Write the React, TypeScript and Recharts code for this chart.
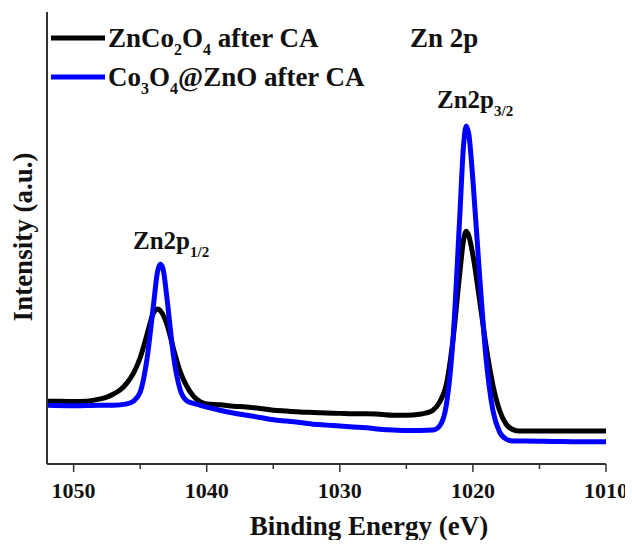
import React from 'react';
import { LineChart, Line, XAxis, YAxis } from 'recharts';

const energyBlack = [1052, 1051, 1050, 1049, 1048, 1047.5, 1047, 1046.5, 1046, 1045.5, 1045, 1044.5, 1044, 1043.7, 1043.4, 1043, 1042.5, 1042, 1041.5, 1041, 1040.5, 1040, 1039, 1038, 1037, 1036, 1035, 1034, 1033, 1032, 1031, 1030, 1029, 1028, 1027, 1026, 1025, 1024, 1023.5, 1023, 1022.5, 1022, 1021.5, 1021, 1020.7, 1020.5, 1020.3, 1020, 1019.5, 1019, 1018.5, 1018, 1017.5, 1017, 1016.5, 1016, 1014, 1012, 1010];
const intensityBlack = [13.9, 13.9, 13.8, 13.9, 14.4, 14.8, 15.5, 16.4, 17.9, 20.1, 23.5, 28.5, 33.4, 34.3, 33.6, 31.0, 25.5, 20.5, 17.2, 15.0, 13.8, 13.3, 13.1, 12.8, 12.6, 12.3, 11.9, 11.7, 11.5, 11.4, 11.3, 11.2, 11.1, 11.1, 11.0, 10.8, 10.8, 11.0, 11.3, 11.9, 13.7, 17.5, 27.4, 41.8, 49.6, 51.5, 50.4, 46.2, 36.3, 25.9, 17.5, 11.9, 8.8, 7.6, 7.3, 7.3, 7.3, 7.3, 7.3];

const energyBlue = [1052, 1050, 1048, 1047, 1046, 1045.5, 1045, 1044.5, 1044, 1043.7, 1043.5, 1043.3, 1043, 1042.7, 1042.5, 1042, 1041.5, 1041, 1040.5, 1040, 1039, 1038, 1037, 1036, 1035, 1034, 1033, 1032, 1031, 1030, 1029, 1028, 1027, 1026, 1025, 1024, 1023, 1022.5, 1022, 1021.5, 1021, 1020.7, 1020.5, 1020.3, 1020, 1019.5, 1019, 1018.5, 1018, 1017.5, 1017, 1016, 1014, 1012, 1010];
const intensityBlue = [13.0, 12.9, 13.0, 13.0, 13.3, 13.9, 15.9, 23.0, 35.2, 42.5, 44.2, 43.4, 37.0, 29.0, 24.0, 16.5, 14.0, 13.4, 13.0, 12.6, 11.9, 11.3, 10.8, 10.3, 9.8, 9.5, 9.2, 8.8, 8.6, 8.4, 8.2, 8.0, 7.7, 7.5, 7.4, 7.4, 7.5, 8.4, 13.0, 27.4, 54.0, 70.6, 74.8, 72.8, 62.8, 41.8, 23.0, 11.9, 7.1, 5.5, 5.1, 5.1, 5.0, 4.9, 4.9];

const xTicks = [1050, 1045, 1040, 1035, 1030, 1025, 1020, 1015, 1010];
const majorTicks = [1050, 1040, 1030, 1020, 1010];

const blackData = energyBlack.map((e, i) => ({ e, v: intensityBlack[i] }));
const blueData = energyBlue.map((e, i) => ({ e, v: intensityBlue[i] }));

const FONT = "'Liberation Serif', 'Times New Roman', Times, 'DejaVu Serif', serif";
const FRAME = '#333';

const renderTick = (props: any) => {
  const { x, y, payload } = props;
  const major = majorTicks.includes(payload.value);
  return (
    <g>
      <line x1={x} x2={x} y1={y} y2={y + (major ? 8 : 5)} stroke={FRAME} strokeWidth={1.5} />
      {major && (
        <text x={x} y={y + 34} textAnchor="middle" fontSize={22} fontWeight="bold" style={{ fontFamily: FONT }} fill="#111">
          {payload.value}
        </text>
      )}
    </g>
  );
};

type Piece = { t: string; sub?: boolean };
const Rich = ({ x, y, pieces, size, subSize }: { x: number; y: number; pieces: Piece[]; size: number; subSize: number }) => (
  <text x={x} y={y} style={{ fontFamily: FONT }} fontWeight="bold" fontSize={size} fill="#111">
    {pieces.map((p, i) =>
      p.sub ? (
        <tspan key={i} fontSize={subSize} dy={size * 0.3}>{p.t}</tspan>
      ) : (
        <tspan key={i} dy={i > 0 && pieces[i - 1].sub ? -size * 0.3 : 0}>{p.t}</tspan>
      )
    )}
  </text>
);

export default function App() {
  return (
    <div style={{ position: 'relative', width: 625, height: 532 }}>
      <LineChart width={625} height={532} margin={{ top: 4, right: 27, bottom: 0, left: 0 }}>
        <XAxis
          dataKey="e"
          type="number"
          domain={[1010, 1052]}
          reversed
          allowDataOverflow
          ticks={xTicks}
          interval={0}
          height={76}
          tickLine={false}
          tickSize={0}
          tickMargin={0}
          tick={renderTick}
          axisLine={{ stroke: FRAME, strokeWidth: 2 }}
        />
        <XAxis
          xAxisId="top"
          orientation="top"
          dataKey="e"
          type="number"
          domain={[1010, 1052]}
          reversed
          height={0}
          tick={false}
          tickLine={false}
          axisLine={{ stroke: FRAME, strokeWidth: 2 }}
        />
        <YAxis
          type="number"
          domain={[0, 100]}
          allowDataOverflow
          width={39}
          tick={false}
          tickLine={false}
          axisLine={{ stroke: FRAME, strokeWidth: 2 }}
        />
        <YAxis
          yAxisId="r"
          orientation="right"
          type="number"
          domain={[0, 100]}
          width={0}
          tick={false}
          tickLine={false}
          axisLine={{ stroke: FRAME, strokeWidth: 2 }}
        />
        <Line data={blackData} dataKey="v" type="monotone" stroke="#000000" strokeWidth={5} dot={false} isAnimationActive={false} />
        <Line data={blueData} dataKey="v" type="monotone" stroke="#0000FF" strokeWidth={5} dot={false} isAnimationActive={false} />
      </LineChart>
      <svg width={617} height={540} style={{ position: 'absolute', left: 0, top: 0, overflow: 'visible', pointerEvents: 'none' }}>
        <text
          x={15}
          y={229}
          transform="rotate(-90 15 229)"
          textAnchor="middle"
          dominantBaseline="central"
          style={{ fontFamily: FONT }}
          fontWeight="bold"
          fontSize={27}
          fill="#111"
        >
          Intensity (a.u.)
        </text>
        <text x={361} y={527} textAnchor="middle" style={{ fontFamily: FONT }} fontWeight="bold" fontSize={27} fill="#111">
          Binding Energy (eV)
        </text>
        <line x1={43} x2={97} y1={30} y2={30} stroke="#000" strokeWidth={5} />
        <Rich x={100} y={39} size={27} subSize={16} pieces={[{ t: 'ZnCo' }, { t: '2', sub: true }, { t: 'O' }, { t: '4', sub: true }, { t: ' after CA' }]} />
        <line x1={43} x2={97} y1={69} y2={69} stroke="#0000FF" strokeWidth={5} />
        <Rich x={100} y={78} size={27} subSize={16} pieces={[{ t: 'Co' }, { t: '3', sub: true }, { t: 'O' }, { t: '4', sub: true }, { t: '@ZnO after CA' }]} />
        <Rich x={402} y={39} size={27} subSize={16} pieces={[{ t: 'Zn 2p' }]} />
        <Rich x={429} y={100} size={25} subSize={15} pieces={[{ t: 'Zn2p' }, { t: '3/2', sub: true }]} />
        <Rich x={125} y={241} size={25} subSize={15} pieces={[{ t: 'Zn2p' }, { t: '1/2', sub: true }]} />
      </svg>
    </div>
  );
}
